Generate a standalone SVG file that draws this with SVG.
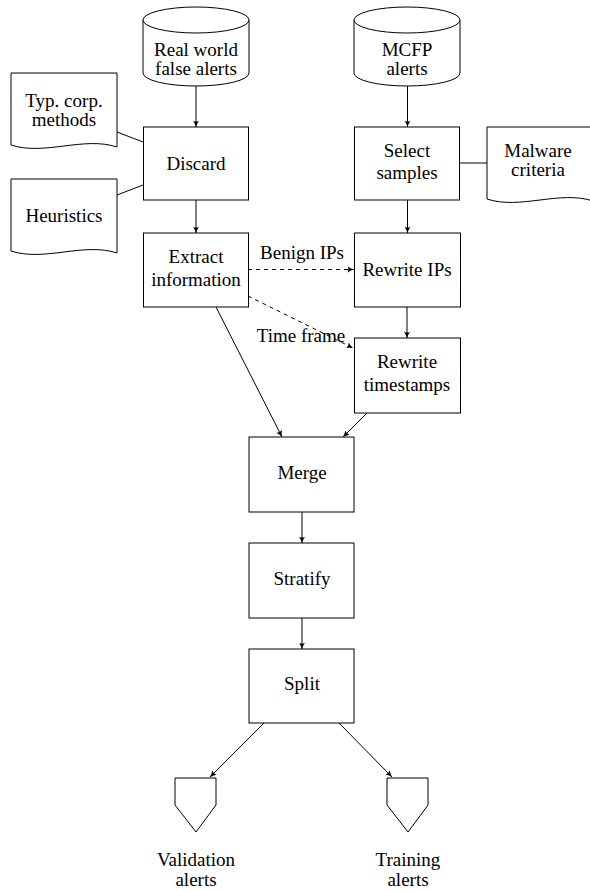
<svg xmlns="http://www.w3.org/2000/svg" width="590" height="891" viewBox="0 0 590 891">
<style>
.s{fill:#fff;stroke:#000;stroke-width:1}
.t{font-family:"Liberation Serif","Times New Roman",serif;font-size:19px;fill:#000;text-anchor:middle}
.c{fill:none;stroke:#000;stroke-width:1}
.a{marker-end:url(#ah)}
.d{stroke-dasharray:4 4}
</style>
<defs>
<marker id="ah" markerUnits="userSpaceOnUse" markerWidth="8" markerHeight="8" viewBox="-6 -3 7 6" refX="0" refY="0" orient="auto">
<path d="M-5.5,-2.6 Q-2.5,-0.6 0,0 Q-2.5,0.6 -5.5,2.6 Q-4,0 -5.5,-2.6 Z" fill="#000"/>
</marker>
</defs>
<rect width="590" height="891" fill="#fff"/>

<g id="connectors">
<line class="c a" x1="196" y1="86" x2="196" y2="127"/>
<line class="c a" x1="407.5" y1="86" x2="407.5" y2="127"/>
<line class="c" x1="117" y1="132" x2="143" y2="142"/>
<line class="c" x1="117" y1="195" x2="143" y2="185"/>
<line class="c" x1="460" y1="163" x2="487" y2="163"/>
<line class="c a" x1="196" y1="200" x2="196" y2="233"/>
<line class="c a" x1="407.5" y1="200" x2="407.5" y2="233"/>
<line class="c a d" x1="248" y1="269.5" x2="354" y2="269.5"/>
<line class="c a d" x1="248" y1="296" x2="353" y2="348"/>
<line class="c a" x1="407" y1="307" x2="407" y2="338"/>
<line class="c a" x1="216" y1="307" x2="282" y2="437"/>
<line class="c a" x1="367" y1="413" x2="343" y2="437"/>
<line class="c a" x1="302" y1="512" x2="302" y2="543"/>
<line class="c a" x1="302" y1="618" x2="302" y2="649"/>
<line class="c a" x1="264" y1="723" x2="210" y2="777"/>
<line class="c a" x1="339" y1="723" x2="392" y2="777"/>
<text class="t" x="302" y="259">Benign IPs</text>
<text class="t" x="301" y="342">Time frame</text>
</g>

<g id="real-world">
<path class="s" d="M143,20 V73 A53,13 0 0 0 249,73 V20"/>
<ellipse class="s" cx="196" cy="20" rx="53" ry="13"/>
<text class="t" x="196" y="56">Real world</text>
<text class="t" x="196" y="75">false alerts</text>
</g>

<g id="mcfp">
<path class="s" d="M354,20 V73 A53,13 0 0 0 460,73 V20"/>
<ellipse class="s" cx="407" cy="20" rx="53" ry="13"/>
<text class="t" x="407" y="56">MCFP</text>
<text class="t" x="407" y="75">alerts</text>
</g>

<g id="typ-corp">
<path class="s" d="M11,73 H117 V147 C84,136 44,156 11,145 Z"/>
<text class="t" x="64" y="107">Typ. corp.</text>
<text class="t" x="64" y="126">methods</text>
</g>

<g id="heuristics">
<path class="s" d="M11,179 H117 V253 C84,242 44,262 11,251 Z"/>
<text class="t" x="64" y="222">Heuristics</text>
</g>

<g id="malware">
<path class="s" d="M487,127 H593 V201 C560,190 520,210 487,199 Z"/>
<text class="t" x="538" y="157">Malware</text>
<text class="t" x="538" y="176">criteria</text>
</g>

<g id="discard">
<rect class="s" x="143.5" y="127" width="105" height="73"/>
<text class="t" x="196" y="170">Discard</text>
</g>

<g id="select">
<rect class="s" x="354.5" y="127" width="105" height="73"/>
<text class="t" x="407" y="157">Select</text>
<text class="t" x="407" y="179">samples</text>
</g>

<g id="extract">
<rect class="s" x="143.5" y="233" width="105" height="74"/>
<text class="t" x="196" y="263">Extract</text>
<text class="t" x="196" y="286">information</text>
</g>

<g id="rewrite-ips">
<rect class="s" x="354.5" y="233" width="106" height="74"/>
<text class="t" x="407" y="276">Rewrite IPs</text>
</g>

<g id="rewrite-ts">
<rect class="s" x="354.5" y="338" width="106" height="75"/>
<text class="t" x="407" y="368">Rewrite</text>
<text class="t" x="407" y="391">timestamps</text>
</g>

<g id="merge">
<rect class="s" x="249" y="437" width="105" height="75"/>
<text class="t" x="302" y="479">Merge</text>
</g>

<g id="stratify">
<rect class="s" x="249" y="543" width="105" height="75"/>
<text class="t" x="302" y="585">Stratify</text>
</g>

<g id="split">
<rect class="s" x="249" y="649" width="105" height="74"/>
<text class="t" x="302" y="690">Split</text>
</g>

<g id="validation">
<path class="s" d="M175,778 H216 V805 L196,832 L175,805 Z"/>
<text class="t" x="196" y="866">Validation</text>
<text class="t" x="196" y="886">alerts</text>
</g>

<g id="training">
<path class="s" d="M387,778 H428 V805 L408,832 L387,805 Z"/>
<text class="t" x="408" y="866">Training</text>
<text class="t" x="408" y="886">alerts</text>
</g>
</svg>
